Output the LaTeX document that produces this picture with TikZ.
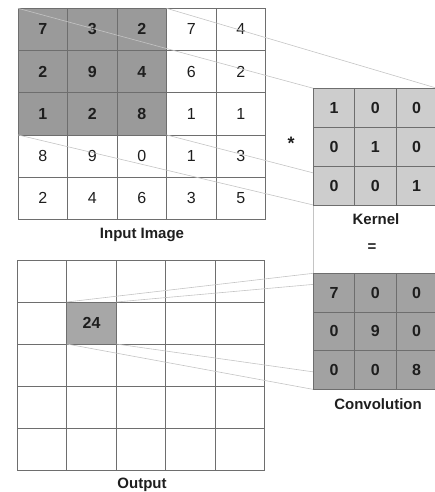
\documentclass[tikz,border=0pt]{standalone}
\usepackage{fontspec}
\setmainfont{Liberation Sans}
\usetikzlibrary{positioning}
\pgfdeclarelayer{front}
\pgfsetlayers{main,front}
\definecolor{gridgray}{HTML}{6E6E6E}
\definecolor{darkcell}{HTML}{9A9A9A}
\definecolor{kercell}{HTML}{CDCDCD}
\definecolor{convcell}{HTML}{A2A2A2}
\definecolor{linkgray}{HTML}{C4C4C4}
\definecolor{ink}{HTML}{1E1E1E}
\tikzset{
  cell/.style={draw=gridgray, line width=0.8pt, inner sep=0pt, outer sep=0pt,
    minimum width=49.5pt, minimum height=42.2pt, text=ink,
    font=\fontsize{16}{16}\selectfont},
  hlcell/.style={cell, fill=darkcell, font=\fontsize{16}{16}\selectfont\bfseries},
  kcell/.style={cell, minimum width=41.3pt, minimum height=38.9pt,
    font=\fontsize{16}{16}\selectfont\bfseries},
  link/.style={draw=linkgray, line width=0.6pt},
  lbl/.style={inner sep=0pt, text=ink, font=\fontsize{15}{15}\selectfont\bfseries}
}
\begin{document}
\begin{tikzpicture}[x=1pt,y=-1pt]
  \useasboundingbox (0,0) rectangle (434,492);
  % input image
  \foreach \row [count=\i] in {{7,3,2,7,4},{2,9,4,6,2},{1,2,8,1,1},{8,9,0,1,3},{2,4,6,3,5}}{
    \foreach \v [count=\j] in \row {
      \ifnum\i<4 \ifnum\j<4 \def\st{hlcell}\else\def\st{cell}\fi \else\def\st{cell}\fi
      \node[\st] (in-\i-\j) at ({18+49.5*(\j-0.5)},{8.3+42.2*(\i-0.5)}) {\v};
    }
  }
  \node[lbl] (inlbl) at (142,235) {Input Image};
  % output
  \foreach \i in {1,...,5}{
    \foreach \j in {1,...,5}{
      \node[cell, minimum height=42pt] (out-\i-\j) at ({17.3+49.5*(\j-0.5)},{260+42*(\i-0.5)}) {};
    }
  }
  \node[hlcell, minimum height=42pt, fill=convcell!95!white] (res) at (out-2-2) {24};
  \node[lbl] (outlbl) at (142,485) {Output};
  % kernel and convolution
  \begin{pgfonlayer}{front}
  \foreach \row [count=\i] in {{1,0,0},{0,1,0},{0,0,1}}{
    \foreach \v [count=\j] in \row {
      \node[kcell, fill=kercell] (k-\i-\j) at ({313.3+41.3*(\j-0.5)},{88.3+38.9*(\i-0.5)}) {\v};
    }
  }
  \foreach \row [count=\i] in {{7,0,0},{0,9,0},{0,0,8}}{
    \foreach \v [count=\j] in \row {
      \node[kcell, fill=convcell, minimum height=38.7pt] (c-\i-\j) at ({313.3+41.3*(\j-0.5)},{273.3+38.7*(\i-0.5)}) {\v};
    }
  }
  \end{pgfonlayer}
  \node[lbl] (kerlbl) at (376,219.5) {Kernel};
  \node[lbl] (eq) at (372,248) {=};
  \node[lbl] (convlbl) at (378,404.5) {Convolution};
  \node[lbl, font=\fontsize{18}{18}\selectfont\bfseries] (star) at (291,143) {*};
  % links
  \draw[link] (in-1-1.north west) -- (k-1-1.north west);
  \draw[link] (in-1-3.north east) -- (k-1-3.north east);
  \draw[link] (in-3-1.south west) -- (k-3-1.south west);
  \draw[link] (in-3-3.south east) -- (k-3-3.south east);
  \draw[link] (k-3-1.south west) -- (c-1-1.north west);
  \draw[link] (res.north west) -- (c-1-1.north west);
  \draw[link] (res.north east) -- (c-1-3.north east);
  \draw[link] (res.south west) -- (c-3-1.south west);
  \draw[link] (res.south east) -- (c-3-3.south east);
\end{tikzpicture}
\end{document}
